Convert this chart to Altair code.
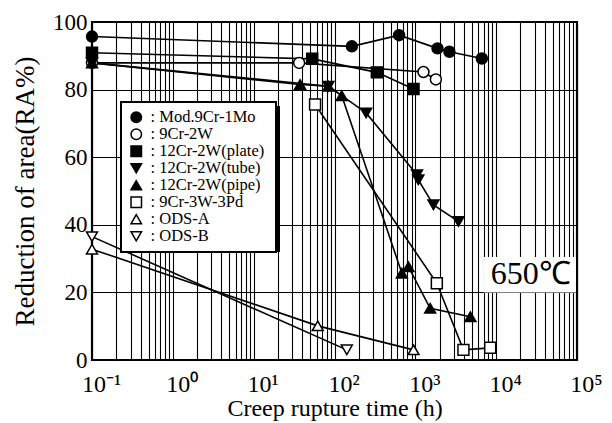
import altair as alt
import pandas as pd

# ---------------- data ----------------
series_names = ["Mod.9Cr-1Mo", "9Cr-2W", "12Cr-2W(plate)", "12Cr-2W(tube)",
                "12Cr-2W(pipe)", "9Cr-3W-3Pd", "ODS-A", "ODS-B"]
series_shapes = ["circle", "circle", "square", "triangle-down",
                 "triangle-up", "square", "triangle-up", "triangle-down"]
series_fills = ["black", "white", "black", "black", "black", "white", "white", "white"]

mod9_t = [0.1, 164, 630, 1880, 2640, 6650]
mod9_ra = [95.7, 92.8, 96.1, 92.2, 91.2, 89.2]

cr9w_t = [0.1, 36.5, 1260, 1795]
cr9w_ra = [87.9, 87.9, 85.2, 83.0]

plate_t = [0.1, 53, 334, 950]
plate_ra = [90.9, 89.1, 85.1, 80.2]

tube_t = [0.1, 84, 246, 1050, 1090, 1675, 3410]
tube_ra = [87.9, 81.0, 73.1, 54.8, 53.3, 45.9, 41.0]

pipe_t = [0.1, 37.5, 84, 123, 681, 822, 1525, 4800]
pipe_ra = [87.9, 81.5, 81.0, 78.2, 25.7, 27.6, 15.3, 12.8]

pd3_t = [57.5, 1845, 3935, 8440]
pd3_ra = [75.6, 22.7, 3.0, 3.6]

odsa_t = [0.1, 62, 950]
odsa_ra = [32.8, 10.1, 3.0]

odsb_t = [0.1, 142]
odsb_ra = [36.5, 3.0]

x_decades = [0.1, 1, 10, 100, 1000, 10000, 100000]
x_decade_labels = ["10⁻¹", "10⁰", "10¹", "10²", "10³", "10⁴", "10⁵"]
y_ticks = [0, 10, 20, 30, 40, 50, 60, 70, 80, 90, 100]

temp_label = ["650℃"]
temp_box_x = [7000, 97000]
temp_box_y = [20, 30.5]
temp_text_xy = [8600, 22.4]

# ---------------- build table ----------------
all_t = [mod9_t, cr9w_t, plate_t, tube_t, pipe_t, pd3_t, odsa_t, odsb_t]
all_ra = [mod9_ra, cr9w_ra, plate_ra, tube_ra, pipe_ra, pd3_ra, odsa_ra, odsb_ra]
rows = []
for name, ts, ras in zip(series_names, all_t, all_ra):
    for i, (t, r) in enumerate(zip(ts, ras)):
        rows.append({"series": name, "time": t, "ra": r, "idx": i})
df = pd.DataFrame(rows)

# grid positions (1..9 x 10^k)
grid_vals = []
for e in range(-1, 5):
    for k in range(1, 10):
        grid_vals.append(float(f"{k}e{e}"))
grid_vals.append(1e5)

label_expr = " : ".join(
    [f"datum.value == {v} ? '{l}'" for v, l in zip(x_decades, x_decade_labels)]
) + " : ''"

FONT = "Liberation Serif"

xscale = alt.Scale(type="log", domain=[0.1, 1e5])
yscale = alt.Scale(domain=[0, 100])

x_enc = alt.X("time:Q", scale=xscale,
              axis=alt.Axis(values=grid_vals, labelExpr=label_expr, grid=True,
                            ticks=False, domain=False, labelOverlap=False,
                            labelFlush=False, labelBound=False,
                            labelFont=FONT, labelFontSize=24, labelColor="black",
                            labelPadding=12, labelOffset=9,
                            title="Creep rupture time (h)",
                            titleFont=FONT, titleFontSize=24, titleFontWeight="normal",
                            titleColor="black", titlePadding=0,
                            gridColor="black", gridOpacity=1, gridWidth=1.1))
y_enc = alt.Y("ra:Q", scale=yscale,
              axis=alt.Axis(values=y_ticks,
                            labelExpr="datum.value % 20 == 0 ? datum.label : ''",
                            grid=True, ticks=False, domain=False,
                            labelFont=FONT, labelFontSize=23, labelColor="black",
                            labelPadding=5, labelOverlap=False, labelFlush=False,
                            title="Reduction of area(RA%)", titleFont=FONT,
                            titleFontSize=27, titleFontWeight="normal",
                            titleColor="black", titlePadding=13,
                            gridColor="black", gridOpacity=1, gridWidth=1.1))

base = alt.Chart(df)

lines = base.mark_line(color="black", strokeWidth=1.6).encode(
    x=x_enc, y=y_enc, detail="series:N", order="idx:Q")

legend = alt.Legend(orient="none", legendX=29, legendY=80, title=None,
                    fillColor="white", strokeColor="black",
                    padding=7, labelFont=FONT, labelFontSize=16.5, labelColor="black",
                    labelExpr="':  ' + datum.label", labelOffset=6,
                    rowPadding=0, symbolSize=110, symbolStrokeColor="black",
                    symbolStrokeWidth=1.5, labelLimit=300)

points = base.mark_point(filled=True, strokeWidth=1.5, opacity=1, size=120).encode(
    x=x_enc, y=y_enc,
    shape=alt.Shape("series:N", scale=alt.Scale(domain=series_names, range=series_shapes),
                    legend=legend),
    fill=alt.Fill("series:N", scale=alt.Scale(domain=series_names, range=series_fills),
                  legend=legend),
    stroke=alt.Stroke("series:N", scale=alt.Scale(domain=series_names,
                                                  range=["black"] * len(series_names)),
                      legend=legend),
)

shadow = alt.Chart(pd.DataFrame({"a": [0]})).mark_rect(color="black").encode(
    x=alt.value(33), x2=alt.value(188), y=alt.value(84), y2=alt.value(230))

box_df = pd.DataFrame({"x": [temp_box_x[0]], "x2": [temp_box_x[1]],
                       "y": [temp_box_y[0]], "y2": [temp_box_y[1]]})
temp_box = alt.Chart(box_df).mark_rect(color="white").encode(
    x=alt.X("x:Q", scale=xscale), x2="x2:Q",
    y=alt.Y("y:Q", scale=yscale), y2="y2:Q")

txt_df = pd.DataFrame({"x": [temp_text_xy[0]], "y": [temp_text_xy[1]], "t": temp_label})
temp_text = alt.Chart(txt_df).mark_text(font=FONT, fontSize=32, align="left",
                                        baseline="alphabetic", color="black").encode(
    x=alt.X("x:Q", scale=xscale), y=alt.Y("y:Q", scale=yscale), text="t:N")

chart = alt.layer(temp_box, temp_text, shadow, lines, points).properties(
    width=485, height=338,
    padding={"left": 92, "top": 22, "right": 35, "bottom": 63},
    autosize=alt.AutoSizeParams(type="none"),
    background="white",
).configure_view(stroke="black", strokeWidth=2.2).configure_legend(strokeWidth=2)

chart.save("out.html", embed_options={"renderer": "svg", "actions": False})
